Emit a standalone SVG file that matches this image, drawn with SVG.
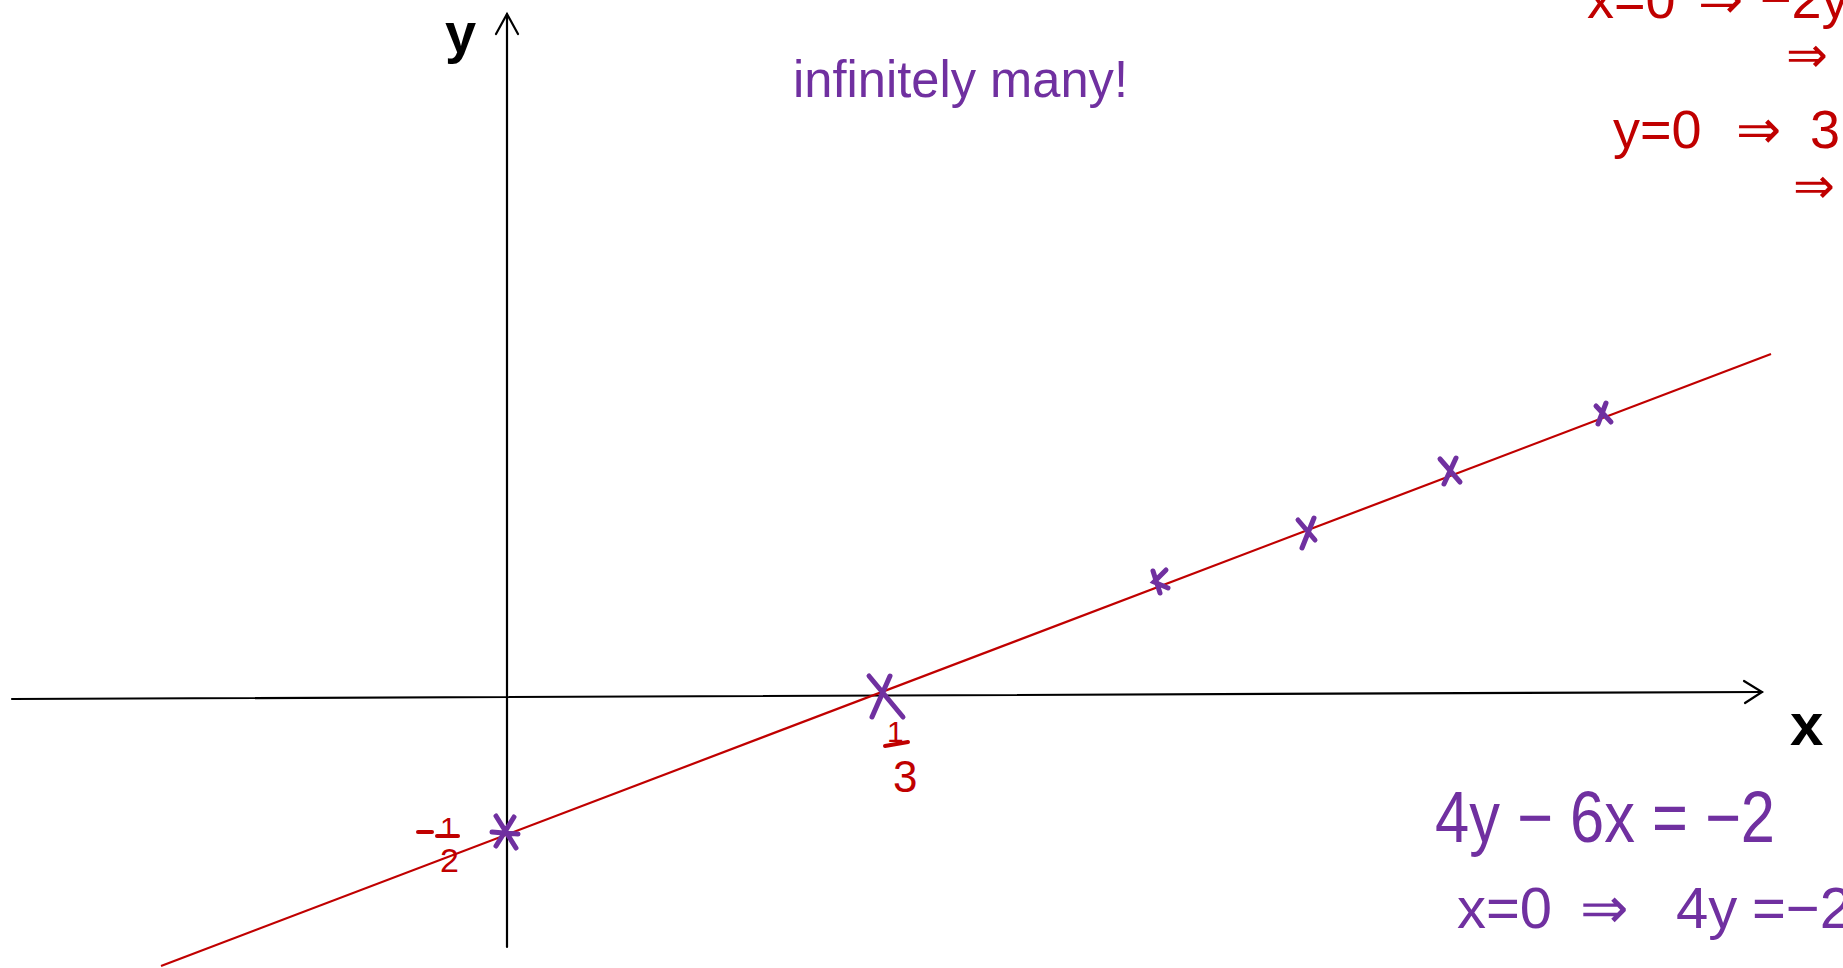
<svg xmlns="http://www.w3.org/2000/svg" width="1843" height="968" viewBox="0 0 1843 968">
<style>
.ax{stroke:#000;stroke-width:2.2;fill:none;stroke-linecap:round}
.red{stroke:#c00000;stroke-width:2.2;fill:none}
.cr{stroke:#7030a0;stroke-width:5;fill:none;stroke-linecap:round}
.rt{fill:#c00000;font-family:"Liberation Sans",sans-serif}
.pt{fill:#7030a0;font-family:"Liberation Sans",sans-serif}
.rb{stroke:#c00000;stroke-width:4;stroke-linecap:round}
</style>
<rect width="1843" height="968" fill="#fff"/>
<g id="axes">
<line class="ax" x1="507" y1="14" x2="507" y2="947"/>
<polyline class="ax" points="496,34 507,14 518,34"/>
<line class="ax" x1="12" y1="699" x2="1762" y2="692"/>
<polyline class="ax" points="1744,681 1762,692 1745,703"/>
</g>
<g id="axis-labels">
<text x="445" y="52" font-size="56" font-family="Liberation Sans,sans-serif" font-weight="bold">y</text>
<text x="1790" y="745" font-size="60" font-family="Liberation Sans,sans-serif" font-weight="bold">x</text>
</g>
<g id="connectors">
<line class="red" x1="161" y1="966" x2="1771" y2="354"/>
</g>
<g id="crosses">
<path class="cr" d="M496,816 L516,848 M514,817 L496,846 M492,832 L518,834"/>
<path class="cr" d="M869,676 L903,717 M890,676 L872,717"/>
<path class="cr" d="M1153,571 L1160,593 M1166,570 L1154,582 L1168,588"/>
<path class="cr" d="M1298,520 L1315,540 M1314,518 L1302,548"/>
<path class="cr" d="M1440,459 L1460,482 M1456,458 L1444,484"/>
<path class="cr" d="M1596,406 L1611,422 M1606,403 L1598,424"/>
</g>
<g id="intercept-labels">
<line class="rb" x1="418" y1="832" x2="432" y2="832"/>
<text class="rt" x="440" y="838" font-size="30">1</text>
<line class="rb" x1="437" y1="836" x2="458" y2="836"/>
<text class="rt" x="440" y="872" font-size="34">2</text>
<text class="rt" x="887" y="742" font-size="30">1</text>
<line class="rb" x1="885" y1="746" x2="908" y2="742"/>
<text class="rt" x="893" y="792" font-size="44">3</text>
</g>
<g id="note-infinitely">
<text class="pt" x="793" y="97" font-size="52" textLength="335" lengthAdjust="spacingAndGlyphs">infinitely many!</text>
</g>
<g id="red-working">
<text class="rt" y="18" font-size="54"><tspan x="1587">x=0</tspan><tspan x="1698">⇒</tspan><tspan x="1760">−2y</tspan></text>
<text class="rt" x="1786" y="72" font-size="50">⇒</text>
<text class="rt" y="148" font-size="54"><tspan x="1613">y=0</tspan><tspan x="1736">⇒</tspan><tspan x="1810">3</tspan></text>
<text class="rt" x="1793" y="203" font-size="50">⇒</text>
</g>
<g id="purple-working">
<text class="pt" x="1435" y="842" font-size="72" textLength="340" lengthAdjust="spacingAndGlyphs">4y − 6x = −2</text>
<text class="pt" y="928" font-size="58"><tspan x="1457">x=0</tspan><tspan x="1580">⇒</tspan><tspan x="1676">4y</tspan><tspan x="1752">=−2</tspan></text>
</g>
</svg>
